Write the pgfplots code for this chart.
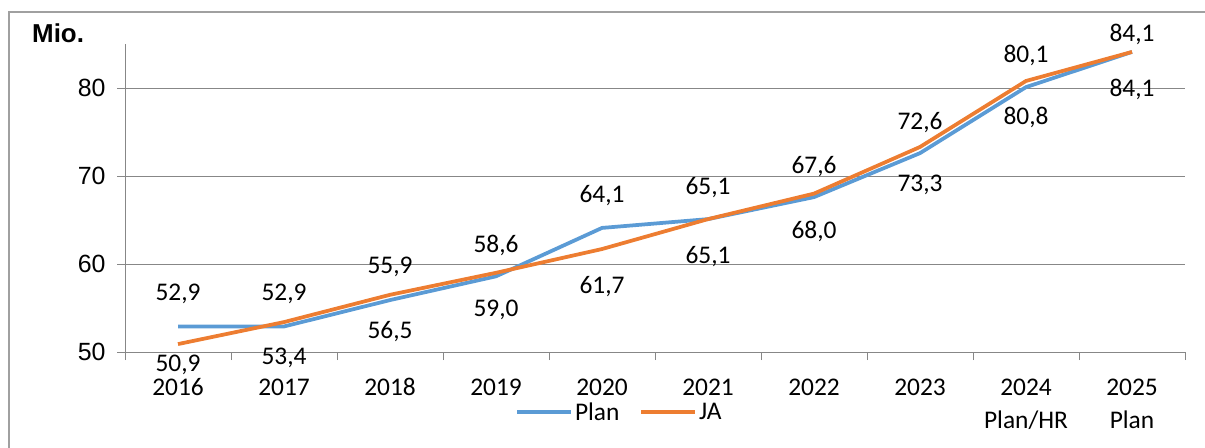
\documentclass[border=0pt]{standalone}
\usepackage{pgfplots}
\pgfplotsset{compat=1.18}
\usepackage{pgfplotstable}
\usepackage{fontspec}
\setmainfont{Carlito}
\newfontfamily\arialf{Liberation Sans}
\definecolor{planc}{HTML}{5B9BD5}
\definecolor{jac}{HTML}{ED7D31}
\definecolor{gridc}{HTML}{878787}
\definecolor{framec}{HTML}{A0A0A0}

\pgfplotstableread{
x y dy
0 52.9 33
1 52.9 33
2 55.9 33
3 58.6 31
4 64.1 32
5 65.1 32
6 67.6 31
7 72.6 31
8 80.1 32
9 84.1 17
}\plandata
\pgfplotstableread{
x y dy
0 50.9 -21
1 53.4 -36
2 56.5 -37
3 59.0 -37
4 61.7 -38
5 65.1 -37
6 68.0 -38
7 73.3 -38
8 80.8 -36
9 84.1 -38
}\jadata

\begin{document}
\begin{tikzpicture}
\useasboundingbox (0,0) rectangle (1205bp,448bp);
\draw[framec, line width=1.5bp] (9bp,-20bp) -- (9bp,436bp) -- (1230bp,436bp);
\node[anchor=base west, inner sep=0pt, font=\arialf\bfseries\fontsize{26}{30}\selectfont] at (32bp,405bp) {Mio.};
\begin{axis}[
  at={(125bp,96bp)}, anchor=south west,
  scale only axis, width=1060bp, height=308bp,
  xmin=-0.5, xmax=9.5, ymin=50, ymax=85,
  axis lines*=left,
  axis line style={gridc, line width=1bp},
  ytick={50,60,70,80},
  ymajorgrids,
  grid style={gridc, line width=1bp},
  tick align=outside,
  major tick length=8bp,
  tick style={gridc, line width=1bp},
  xtick={-0.5,0.5,1.5,2.5,3.5,4.5,5.5,6.5,7.5,8.5,9.5},
  xticklabels={,,,,,,,,,,},
  extra x ticks={0,1,2,3,4,5,6,7,8,9},
  extra x tick labels={2016,2017,2018,2019,2020,2021,2022,2023,{2024\\Plan/HR},{2025\\Plan}},
  extra x tick style={major tick length=0pt, grid=none},
  xticklabel style={align=center, font=\fontsize{25.5}{34}\selectfont, text=black, yshift=-23bp},
  yticklabel style={font=\arialf\fontsize{25}{29}\selectfont, text=black, xshift=-8bp},
  /pgf/number format/assume math mode=true,
  clip=false,
  legend columns=2,
  legend style={draw=none, fill=none, at={(0.368,-0.195)}, anchor=west, inner sep=0pt,
    font=\fontsize{25.5}{30}\selectfont,
    /tikz/every even column/.append style={column sep=18bp}},
  legend cell align=left,
  legend image code/.code={\draw[#1, line width=3.75bp] (0bp,0bp) -- (54bp,0bp);},
]
\addplot[planc, line width=3.75bp, mark=none,
  visualization depends on={\thisrow{dy} \as \dy},
  nodes near coords={\pgfmathprintnumber[fixed,fixed zerofill,precision=1,use comma]{\pgfplotspointmeta}},
  every node near coord/.append style={font=\fontsize{25.5}{30}\selectfont, text=black, anchor=center, inner sep=0pt, yshift=\dy bp},
  ] table[x=x,y=y] {\plandata};
\addlegendentry{Plan}
\addplot[jac, line width=3.75bp, mark=none,
  visualization depends on={\thisrow{dy} \as \dy},
  nodes near coords={\pgfmathprintnumber[fixed,fixed zerofill,precision=1,use comma]{\pgfplotspointmeta}},
  every node near coord/.append style={font=\fontsize{25.5}{30}\selectfont, text=black, anchor=center, inner sep=0pt, yshift=\dy bp},
  ] table[x=x,y=y] {\jadata};
\addlegendentry{JA}
\end{axis}
\end{tikzpicture}
\end{document}
